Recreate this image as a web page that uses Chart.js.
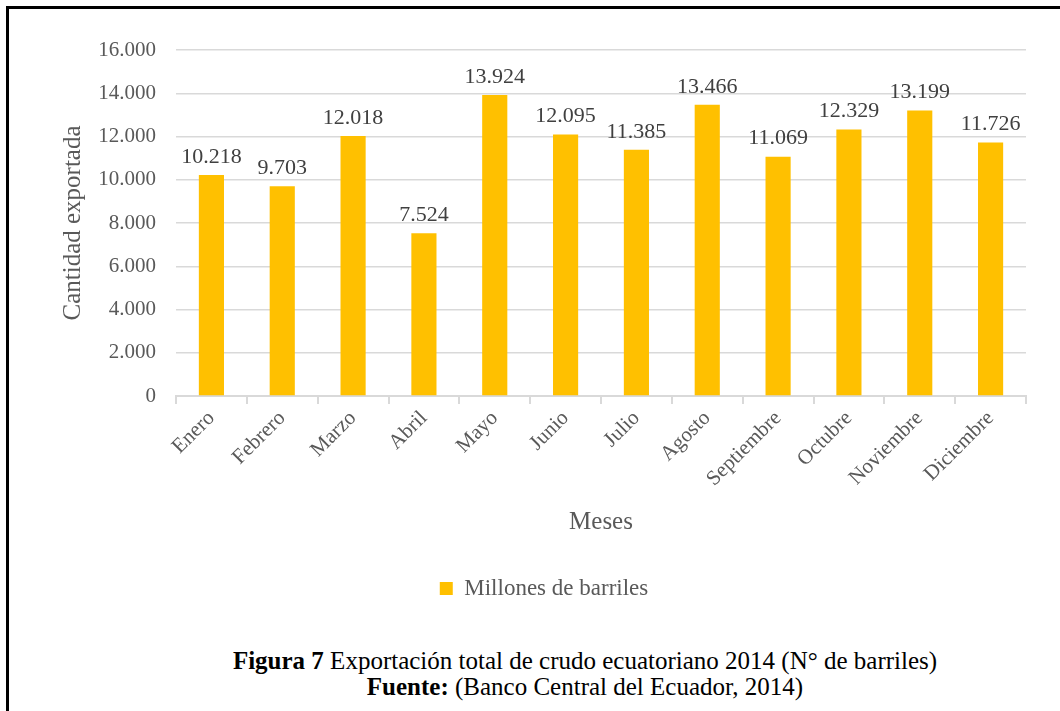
<!DOCTYPE html>
<html>
<head>
<meta charset="utf-8">
<script src="https://cdn.jsdelivr.net/npm/chart.js@4"></script>
<style>
  html, body { margin: 0; padding: 0; background: #fff; }
  body { width: 1060px; height: 711px; position: relative; overflow: hidden; }
  .frame {
    position: absolute; left: 6px; top: 6px; width: 1060px; height: 720px;
    border-left: 3px solid #000; border-top: 3px solid #000;
  }
  .wrap { position: absolute; left: 10px; top: 10px; width: 1050px; height: 600px; }
  .caption {
    position: absolute; left: 85px; width: 1000px; top: 648px;
    text-align: center; font-family: "Liberation Serif", serif; font-size: 25px;
    line-height: 26px; color: #000;
  }
</style>
</head>
<body>
<div class="frame"></div>
<div class="wrap"><canvas id="chart" width="1050" height="600"></canvas></div>
<div class="caption">
  <div><b>Figura 7</b> Exportación total de crudo ecuatoriano 2014 (N° de barriles)</div>
  <div><b>Fuente:</b> (Banco Central del Ecuador, 2014)</div>
</div>
<script>
const months = ["Enero", "Febrero", "Marzo", "Abril", "Mayo", "Junio", "Julio",
  "Agosto", "Septiembre", "Octubre", "Noviembre", "Diciembre"];
const barrels = [10218, 9703, 12018, 7524, 13924, 12095, 11385, 13466, 11069, 12329, 13199, 11726];
const seriesName = "Millones de barriles";
const yTitle = "Cantidad exportada";
const xTitle = "Meses";

const serif = "'Liberation Serif', 'Times New Roman', serif";
const fmtNum = (v) => v.toLocaleString("de-DE");

Chart.defaults.font.family = serif;
Chart.defaults.color = "#595959";

const valueLabels = {
  id: "valueLabels",
  afterDatasetsDraw(chart) {
    const { ctx } = chart;
    const meta = chart.getDatasetMeta(0);
    ctx.save();
    ctx.font = `22px ${serif}`;
    ctx.fillStyle = "#404040";
    ctx.textAlign = "center";
    ctx.textBaseline = "bottom";
    meta.data.forEach((bar, i) => {
      ctx.fillText(fmtNum(barrels[i]), bar.x, bar.y - 7);
    });
    ctx.restore();
  },
};

// legend sits a bit right of the canvas centre in the original
const nudgeLegend = {
  id: "nudgeLegend",
  afterLayout(chart) {
    if (!chart.legend) return;
    chart.legend.left += 26;
    chart.legend.right += 26;
  },
};

new Chart(document.getElementById("chart"), {
  type: "bar",
  data: {
    labels: months,
    datasets: [{
      label: seriesName,
      data: barrels,
      backgroundColor: "#FFC000",
      borderWidth: 0,
      categoryPercentage: 1,
      barPercentage: 0.355,
    }],
  },
  options: {
    responsive: false,
    animation: false,
    layout: { padding: { left: 0, right: 34, top: 40, bottom: 0 } },
    plugins: {
      legend: {
        position: "bottom",
        labels: {
          font: { family: serif, size: 23 },
          color: "#595959",
          boxWidth: 13,
          boxHeight: 13,
          padding: 10,
        },
      },
      tooltip: { enabled: false },
    },
    scales: {
      x: {
        afterFit: (s) => { s.height = 171; },
        grid: {
          offset: true,
          drawOnChartArea: false,
          drawTicks: true,
          tickLength: 8,
          color: "#d9d9d9",
          lineWidth: 2,
        },
        border: { color: "#d9d9d9", width: 2 },
        ticks: {
          font: { family: serif, size: 21 },
          color: "#595959",
          minRotation: 45,
          maxRotation: 45,
          padding: 2,
        },
        title: {
          display: true,
          text: xTitle,
          font: { family: serif, size: 25 },
          color: "#595959",
          padding: { top: 0, bottom: 30 },
        },
      },
      y: {
        min: 0,
        max: 16000,
        afterFit: (s) => { s.width = 166; },
        grid: { color: "#d9d9d9", lineWidth: 1.5, drawTicks: false },
        border: { display: false },
        ticks: {
          stepSize: 2000,
          font: { family: serif, size: 21 },
          color: "#595959",
          padding: 20,
          callback: (v) => fmtNum(v),
        },
        title: {
          display: true,
          text: yTitle,
          font: { family: serif, size: 25 },
          color: "#595959",
          padding: { top: 48, bottom: 0 },
        },
      },
    },
  },
  plugins: [valueLabels, nudgeLegend],
});
</script>
</body>
</html>
